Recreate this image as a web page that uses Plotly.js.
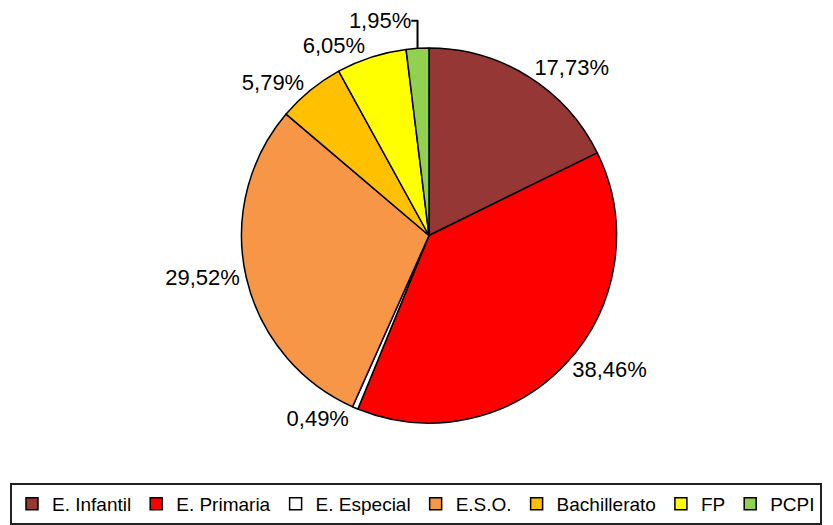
<!DOCTYPE html>
<html>
<head>
<meta charset="utf-8">
<script src="https://cdn.plot.ly/plotly-3.0.1.min.js"></script>
<style>
  body { margin: 0; background: #fff; }
  #plot { width: 833px; height: 525px; }
</style>
</head>
<body>
<div id="plot"></div>
<script>
// niveles educativos y su peso (%)
var niveles = ["E. Infantil", "E. Primaria", "E. Especial", "E.S.O.", "Bachillerato", "FP", "PCPI"];
var porcentajes = [17.73, 38.46, 0.49, 29.52, 5.79, 6.05, 1.95];
var colores = ["#953735", "#FF0000", "#FFFFFF", "#F79646", "#FFC000", "#FFFF00", "#92D050"];

var etiquetas = porcentajes.map(function (v) {
    return v.toFixed(2).replace(".", ",") + "%";
});

var tarta = {
    type: "pie",
    labels: niveles,
    values: porcentajes,
    text: etiquetas,
    textinfo: "text",
    textposition: "outside",
    hoverinfo: "label+percent",
    sort: false,
    direction: "clockwise",
    rotation: 0,
    marker: {
        colors: colores,
        line: { color: "#000000", width: 1.5 }
    },
    outsidetextfont: { family: "Liberation Sans, Arial, sans-serif", size: 22, color: "#000" },
    domain: { x: [239 / 833, 619 / 833], y: [0, 1] }
};

var layout = {
    width: 833,
    height: 525,
    margin: { l: 0, r: 0, t: 48, b: 97 },
    paper_bgcolor: "#fff",
    showlegend: true,
    legend: {
        orientation: "h",
        x: 0.012,
        xanchor: "left",
        y: -0.16,
        yanchor: "top",
        bordercolor: "#222",
        borderwidth: 2,
        font: { family: "Liberation Sans, Arial, sans-serif", size: 19, color: "#000" },
        itemwidth: 30
    }
};

Plotly.newPlot("plot", [tarta], layout, { displayModeBar: false });
</script>
</body>
</html>
